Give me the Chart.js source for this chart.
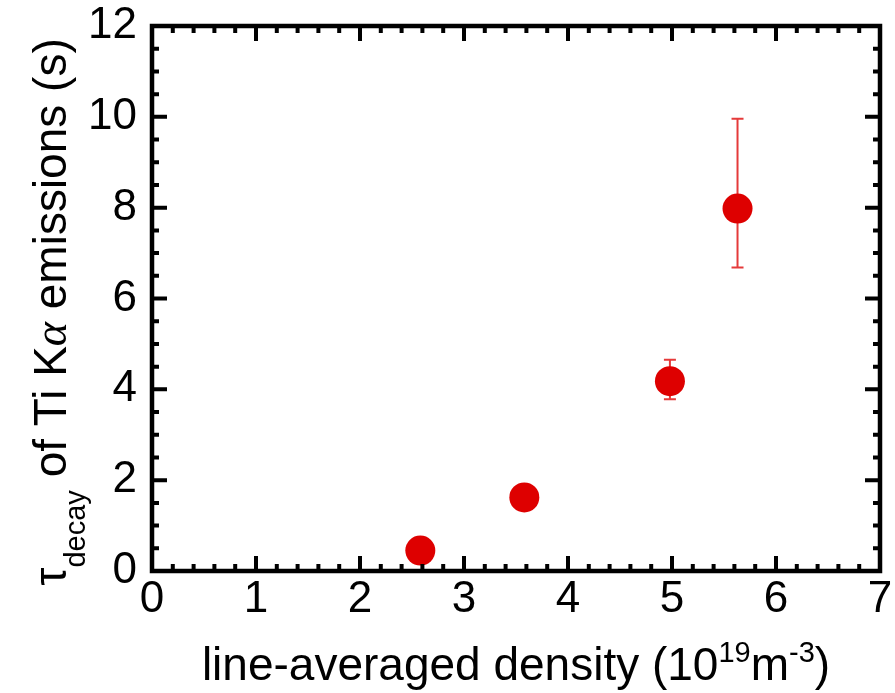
<!DOCTYPE html>
<html>
<head>
<meta charset="utf-8">
<script src="https://cdn.jsdelivr.net/npm/chart.js@4/dist/chart.umd.min.js"></script>
<style>
  html, body { margin: 0; padding: 0; background: #fff; }
  #wrap { width: 895px; height: 693px; }
</style>
</head>
<body>
<div id="wrap"><canvas id="chart" width="895" height="693"></canvas></div>
<script>
/* ----------- Data ----------- */
const density = [2.58, 3.58, 4.98, 5.63];      // 10^19 m^-3
const tauDecay = [0.45, 1.62, 4.18, 7.98];     // s
const errLow = [null, null, 3.78, 6.68];
const errHigh = [null, null, 4.65, 9.96];
const xTicks = [0, 1, 2, 3, 4, 5, 6, 7];
const yTicks = [0, 2, 4, 6, 8, 10, 12];

const FONT = 'Liberation Sans, Arial, sans-serif';
const RED = '#de0000';

/* ----------- Frame + inward ticks ----------- */
const framePlugin = {
    id: 'frame',
    beforeDatasetsDraw(chart){
        const ctx = chart.ctx, x = chart.scales.x, y = chart.scales.y;
        // error bars
        ctx.save();
        ctx.strokeStyle = '#e53a3a';
        ctx.lineWidth = 2;
        density.forEach((d, i) => {
            if(errLow[i] == null) return;
            const px = x.getPixelForValue(d);
            const y1 = y.getPixelForValue(errLow[i]);
            const y2 = y.getPixelForValue(errHigh[i]);
            ctx.beginPath();
            ctx.moveTo(px, y1); ctx.lineTo(px, y2);
            ctx.moveTo(px - 6, y1); ctx.lineTo(px + 6, y1);
            ctx.moveTo(px - 6, y2); ctx.lineTo(px + 6, y2);
            ctx.stroke();
        });
        ctx.restore();
    },
    afterDraw(chart){
        const ctx = chart.ctx, a = chart.chartArea;
        const x = chart.scales.x, y = chart.scales.y;
        ctx.save();
        ctx.strokeStyle = '#000';
        ctx.lineWidth = 4;
        ctx.beginPath();
        // x ticks, minor every 0.2
        for(let k = 0; k <= 35; k++){
            const px = x.getPixelForValue(k * 0.2);
            const len = (k % 5 === 0) ? 15 : 7;
            ctx.moveTo(px, a.bottom); ctx.lineTo(px, a.bottom - len);
            ctx.moveTo(px, a.top); ctx.lineTo(px, a.top + len);
        }
        // y ticks, minor every 0.5
        for(let k = 0; k <= 24; k++){
            const py = y.getPixelForValue(k * 0.5);
            const len = (k % 4 === 0) ? 15 : 7;
            ctx.moveTo(a.left, py); ctx.lineTo(a.left + len, py);
            ctx.moveTo(a.right, py); ctx.lineTo(a.right - len, py);
        }
        ctx.stroke();
        ctx.lineWidth = 4.5;
        ctx.strokeRect(a.left, a.top, a.right - a.left, a.bottom - a.top);

        /* x title with superscripts */
        ctx.fillStyle = '#000';
        ctx.textBaseline = 'alphabetic';
        ctx.textAlign = 'left';
        const big = '46px ' + FONT, sup = '29px ' + FONT;
        const parts = [
            ['line-averaged density (10', big, 0],
            ['19', sup, -18],
            ['m', big, 0],
            ['-3', sup, -18],
            [')', big, 0]
        ];
        let w = 0;
        parts.forEach(p => { ctx.font = p[1]; w += ctx.measureText(p[0]).width; });
        let cx = 516 - w / 2;
        parts.forEach(p => {
            ctx.font = p[1];
            ctx.fillText(p[0], cx, 680 + p[2]);
            cx += ctx.measureText(p[0]).width;
        });

        /* y title, rotated */
        ctx.translate(66, 312);
        ctx.rotate(-Math.PI / 2);
        const yParts = [
            ['\u03c4', big, 0],
            ['decay', sup, 19],
            [' of Ti K', big, 0],
            ['\u03b1', 'italic 46px Liberation Serif, serif', 0],
            [' emissions (s)', big, 0]
        ];
        w = 0;
        yParts.forEach(p => { ctx.font = p[1]; w += ctx.measureText(p[0]).width; });
        cx = -w / 2;
        yParts.forEach(p => {
            ctx.font = p[1];
            ctx.fillText(p[0], cx, p[2]);
            cx += ctx.measureText(p[0]).width;
        });
        ctx.restore();
    }
};

/* ----------- Chart ----------- */
new Chart(document.getElementById('chart'), {
    type: 'scatter',
    data: {
        datasets: [{
            data: density.map((d, i) => ({x: d, y: tauDecay[i]})),
            backgroundColor: RED,
            borderWidth: 0,
            pointRadius: 15,
            pointHoverRadius: 15
        }]
    },
    options: {
        responsive: false,
        animation: false,
        layout: { padding: { left: 0, right: 15, top: 26, bottom: 0 } },
        plugins: { legend: { display: false }, tooltip: { enabled: false } },
        scales: {
            x: {
                type: 'linear', min: 0, max: 7,
                afterFit: s => { s.height = 122; s.paddingLeft = 0; s.paddingRight = 0; },
                afterBuildTicks: s => { s.ticks = xTicks.map(v => ({value: v})); },
                grid: { display: false, drawTicks: false },
                border: { display: false },
                ticks: { color: '#000', padding: 2, font: { size: 44, family: FONT } }
            },
            y: {
                type: 'linear', min: 0, max: 12,
                afterFit: s => { s.width = 152; s.paddingTop = 0; s.paddingBottom = 0; },
                afterBuildTicks: s => { s.ticks = yTicks.map(v => ({value: v})); },
                grid: { display: false, drawTicks: false },
                border: { display: false },
                ticks: { color: '#000', padding: 15, font: { size: 44, family: FONT } }
            }
        }
    },
    plugins: [framePlugin]
});
</script>
</body>
</html>
